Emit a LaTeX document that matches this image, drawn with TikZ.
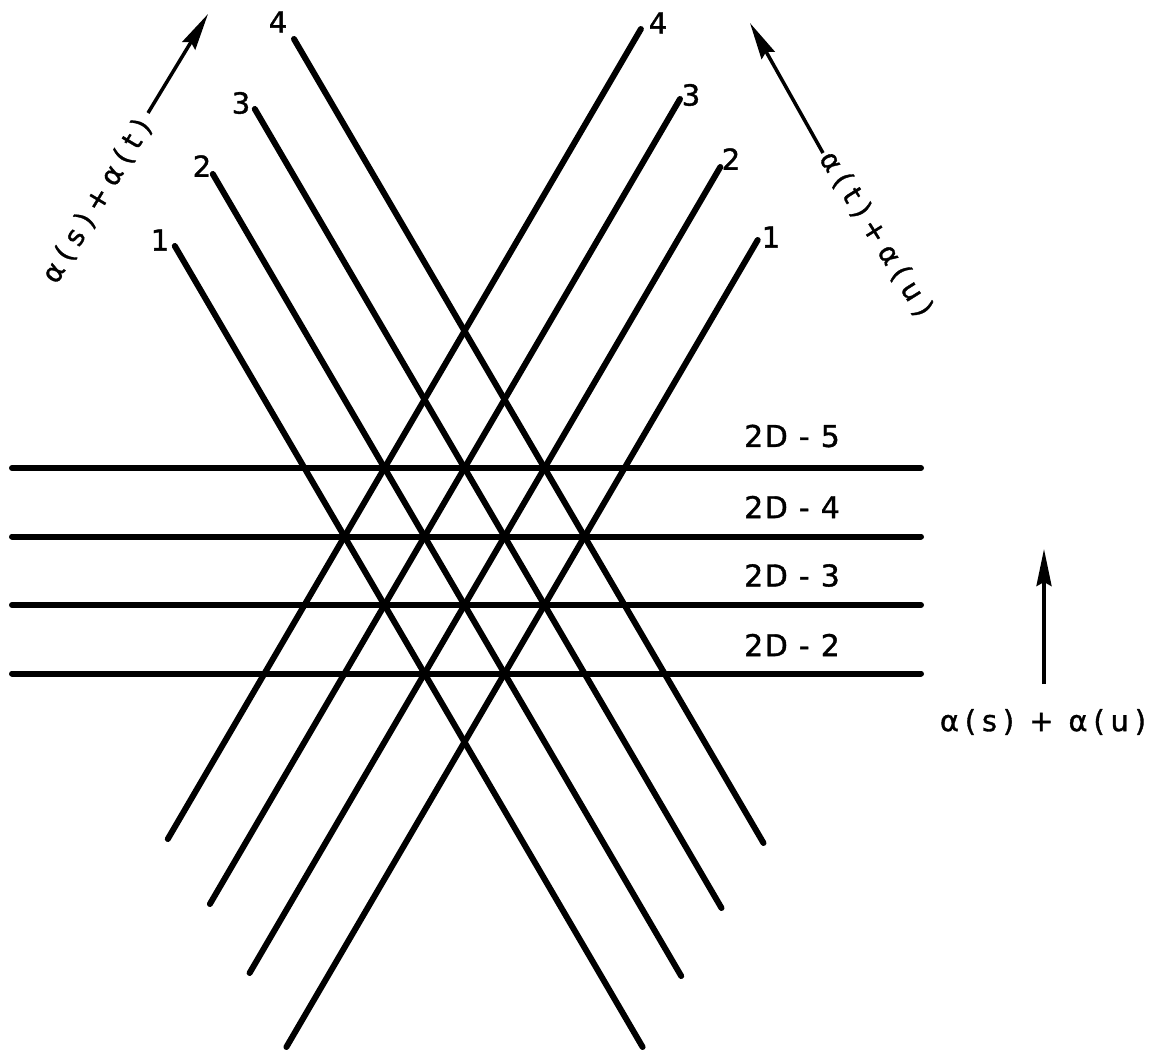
\documentclass[tikz,border=0pt]{standalone}
\usepackage{fontspec}
\setmainfont[FakeBold=1.2]{DejaVu Sans}
\newfontfamily\bandfont[LetterSpace=5,FakeBold=1.2]{DejaVu Sans}
\newfontfamily\alfont[LetterSpace=20,FakeBold=1.2]{DejaVu Sans}
\newfontfamily\rotfont[LetterSpace=25,FakeBold=1.2]{DejaVu Sans}
\usetikzlibrary{arrows.meta}
\tikzset{
  bar/.style={line width=6pt, line cap=round},
  num/.style={inner sep=0pt, font=\fontsize{29}{34}\selectfont},
  band/.style={inner sep=0pt, font=\bandfont\fontsize{30}{36}\selectfont},
  axislbl/.style={inner sep=0pt, font=\alfont\fontsize{29}{34}\selectfont},
  rotlbl/.style={inner sep=0pt, font=\rotfont\fontsize{28}{34}\selectfont},
  arr/.style={line width=3.5pt, -{Stealth[length=37pt,width=15pt,inset=4pt]}}
}
\begin{document}
\begin{tikzpicture}[x=1pt,y=-1pt]
\useasboundingbox (0,0) rectangle (1162,1050);
\fill[white] (0,0) rectangle (1162,1050);

% line end points (down-right family L, down-left family R)
\coordinate (L1a) at (174.8,246);  \coordinate (L1b) at (642.6,1047);
\coordinate (L2a) at (212.8,174);  \coordinate (L2b) at (681.2,976);
\coordinate (L3a) at (254.8,109);  \coordinate (L3b) at (721.5,908);
\coordinate (L4a) at (294.0,39);   \coordinate (L4b) at (763.5,843);
\coordinate (R1a) at (757.7,240);  \coordinate (R1b) at (286.4,1047);
\coordinate (R2a) at (720.3,167);  \coordinate (R2b) at (249.6,973);
\coordinate (R3a) at (680.0,99);   \coordinate (R3b) at (209.9,904);
\coordinate (R4a) at (640.9,29);   \coordinate (R4b) at (167.8,839);

% horizontal line ends
\coordinate (H5a) at (12,468);   \coordinate (H5b) at (921,468);
\coordinate (H4a) at (12,536.5); \coordinate (H4b) at (921,536.5);
\coordinate (H3a) at (12,605);   \coordinate (H3b) at (921,605);
\coordinate (H2a) at (12,673.5); \coordinate (H2b) at (921,673.5);

\foreach \n in {1,2,3,4} {
  \draw[bar] (L\n a) -- (L\n b);
  \draw[bar] (R\n a) -- (R\n b);
}
\foreach \n in {2,3,4,5} {
  \draw[bar] (H\n a) -- (H\n b);
}

% line numbers
\node[num] (nL1) at (160,240) {1};
\node[num] (nL2) at (202,166) {2};
\node[num] (nL3) at (241,103) {3};
\node[num] (nL4) at (278,22) {4};
\node[num] (nR4) at (658,23) {4};
\node[num] (nR3) at (691,95) {3};
\node[num] (nR2) at (731,159) {2};
\node[num] (nR1) at (771,237) {1};

% band labels
\node[band] (b5) at (792,436) {2D - 5};
\node[band] (b4) at (792,507) {2D - 4};
\node[band] (b3) at (792,575.5) {2D - 3};
\node[band] (b2) at (792,645) {2D - 2};

% vertical arrow
\coordinate (va) at (1044,684);
\coordinate (vb) at (1044,549);
\draw[arr] (va) -- (vb);
\node[axislbl] (asu) at (1043,722) {α(s) + α(u)};

% top-left arrow
\coordinate (ta) at (148,113);
\coordinate (tb) at (208,14);
\draw[arr] (ta) -- (tb);
\node[rotlbl, rotate=59] (ast) at (97,201) {α(s)+α(t)};

% top-right arrow
\coordinate (ua) at (823,153);
\coordinate (ub) at (750,23);
\draw[arr] (ua) -- (ub);
\node[rotlbl, rotate=-58] (atu) at (876,234) {α(t)+α(u)};
\end{tikzpicture}
\end{document}
